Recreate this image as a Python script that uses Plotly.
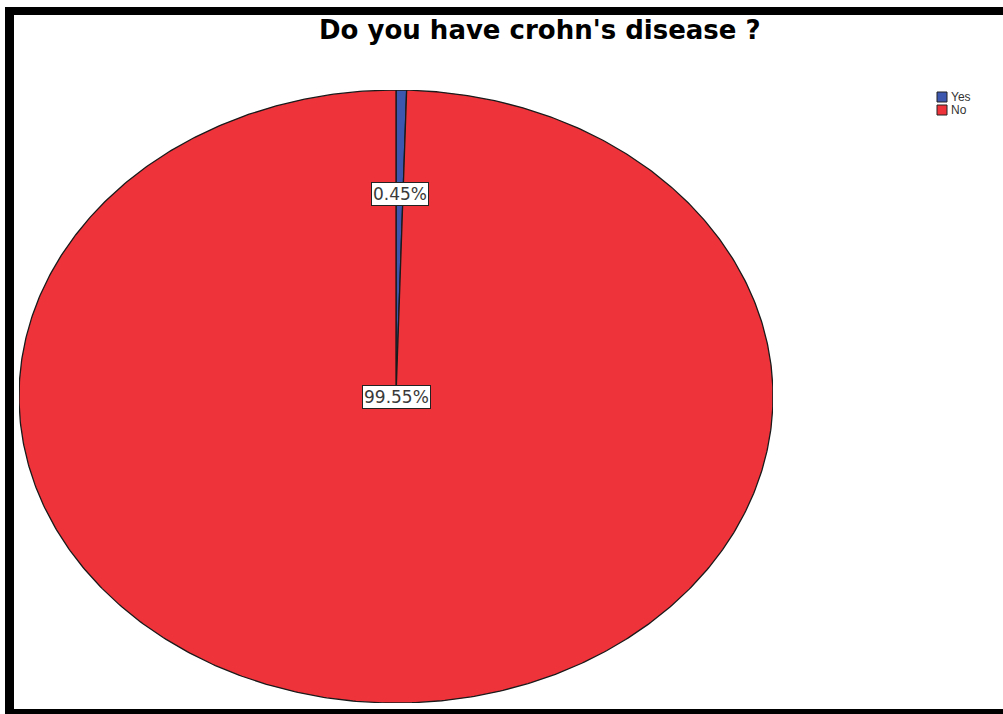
import numpy as np
import plotly.graph_objects as go

# ---- data ----
title_text = "Do you have crohn's disease ?"
categories = ["Yes", "No"]
values = [0.45, 99.55]
colors = ["#3D57AE", "#EF333B"]

# ---- layout geometry (pixels) ----
W, H = 1003, 714
L, R, T, B = 19, 230, 90, 11   # plot area = ellipse bounding box
label_radius = [0.66, 0.0]     # label placement as fraction of radius

def px(x):
    return (x - L) / (W - L - R)

def py(y):
    return 1 - (y - T) / (H - T - B)

fig = go.Figure()
total = sum(values)
start = 90.0  # 12 o'clock, clockwise
annotations = []
for name, v, c, lr in zip(categories, values, colors, label_radius):
    sweep = 360.0 * v / total
    n = max(4, int(sweep * 2))
    th = np.radians(np.linspace(start, start - sweep, n))
    xs = np.concatenate([[0], np.cos(th), [0]])
    ys = np.concatenate([[0], np.sin(th), [0]])
    fig.add_trace(go.Scatter(
        x=xs, y=ys, mode="lines", fill="toself", fillcolor=c,
        line=dict(color="#1a1a1a", width=1.3), name=name,
        hoverinfo="skip", showlegend=False))
    mid = np.radians(start - sweep / 2)
    annotations.append(dict(
        x=lr * np.cos(mid), y=lr * np.sin(mid), xref="x", yref="y",
        text=f"{v / total * 100:.2f}%", showarrow=False,
        font=dict(family="DejaVu Sans", size=17, color="#3a3a3a"),
        bgcolor="white", bordercolor="#222", borderwidth=1, borderpad=1))
    start -= sweep

# title
annotations.append(dict(
    x=px(540), y=py(30), xref="paper", yref="paper", text=f"<b>{title_text}</b>",
    showarrow=False, font=dict(family="DejaVu Sans", size=26, color="black"),
    xanchor="center", yanchor="middle"))

shapes = []
# manual legend
for i, (name, c) in enumerate(zip(categories, colors)):
    y0 = 92 + i * 13
    shapes.append(dict(type="rect", xref="paper", yref="paper",
                       x0=px(937), x1=px(947), y0=py(y0), y1=py(y0 + 10),
                       fillcolor=c, line=dict(color="#222", width=1)))
    annotations.append(dict(
        x=px(949), y=py(y0 + 5), xref="paper", yref="paper", text=name,
        showarrow=False, xanchor="left", yanchor="middle",
        font=dict(family="Liberation Sans", size=12, color="#333")))

# frame (top, left, bottom black bands)
for (x0, x1, y0, y1) in [(5, W + 5, 7, 15), (5, 14, 7, H), (5, W + 5, 709, H)]:
    shapes.append(dict(type="rect", xref="paper", yref="paper",
                       x0=px(x0), x1=px(x1), y0=py(y1), y1=py(y0),
                       fillcolor="black", line=dict(width=0), layer="above"))

fig.update_layout(
    width=W, height=H, margin=dict(l=L, r=R, t=T, b=B, pad=0),
    paper_bgcolor="white", plot_bgcolor="white",
    xaxis=dict(range=[-1, 1], visible=False, fixedrange=True),
    yaxis=dict(range=[-1, 1], visible=False, fixedrange=True),
    annotations=annotations, shapes=shapes, showlegend=False)

fig.write_html(
    "out.html", config={"displayModeBar": False},
    post_script=("document.documentElement.style.margin='0px';"
                 "document.documentElement.style.overflow='hidden';"
                 "document.body.style.margin='0px';"
                 "document.body.style.overflow='hidden';"))
